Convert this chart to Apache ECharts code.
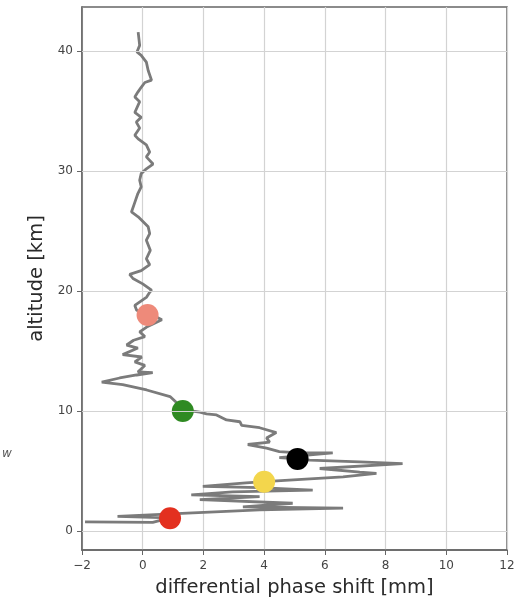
<!DOCTYPE html>
<html>
<head>
<meta charset="utf-8">
<script src="https://cdn.jsdelivr.net/npm/echarts@6/dist/echarts.min.js"></script>
<style>
html,body{margin:0;padding:0;background:#fff;}
#chart{width:524px;height:598px;}
</style>
</head>
<body>
<div id="chart"></div>
<script>
// Differential phase shift profile (mm) vs altitude (km), top to bottom
const phaseShift = [
 -0.15,-0.10,-0.19,-0.05,0.12,0.18,0.29,0.07,-0.05,-0.16,
 -0.26,-0.10,-0.26,-0.05,-0.21,-0.10,-0.26,-0.15,0.12,0.23,
 0.12,0.34,0.12,-0.05,-0.10,-0.05,-0.16,-0.26,-0.37,-0.15,
 0.18,0.23,0.12,0.25,0.12,0.23,-0.05,-0.43,-0.32,0.00,
 0.29,0.23,0.13,-0.26,-0.20,0.10,0.40,0.63,0.13,-0.10,
 0.07,-0.30,-0.53,-0.16,-0.66,-0.03,-0.26,0.07,-0.16,0.33,
 -0.20,-0.76,-1.35,-0.66,0.13,0.90,1.20,1.32,1.88,2.10,
 2.43,2.76,3.20,3.26,3.85,4.40,4.08,4.18,3.46,4.08,
 4.50,5.17,6.26,4.50,5.10,5.50,7.15,8.56,5.83,7.15,
 7.70,6.60,4.28,3.40,1.98,3.85,5.60,2.96,1.60,3.85,
 1.88,4.94,3.30,6.60,3.85,1.65,-0.83,0.90,0.33,-1.90
];
const altitude = [
 41.6,40.5,39.95,39.67,39.1,38.4,37.6,37.4,37.0,36.6,
 36.2,35.8,34.9,34.5,34.1,33.6,33.0,32.7,32.2,31.6,
 31.2,30.6,30.2,29.8,29.25,28.7,28.14,27.4,26.6,26.2,
 25.36,24.8,24.25,23.4,22.7,22.2,21.7,21.4,21.05,20.6,
 20.08,19.9,19.5,18.8,18.4,18.1,17.9,17.6,17.0,16.6,
 16.2,15.9,15.5,15.25,14.7,14.5,14.1,13.8,13.25,13.2,
 13.0,12.75,12.4,12.2,11.75,11.2,10.5,10.1,9.9,9.75,
 9.67,9.25,9.1,8.8,8.6,8.2,7.75,7.4,7.2,6.9,
 6.6,6.5,6.5,6.1,6.0,5.9,5.75,5.6,5.2,4.9,
 4.8,4.5,4.15,4.0,3.7,3.6,3.4,3.25,3.0,2.85,
 2.6,2.3,2.0,1.9,1.75,1.5,1.2,1.08,0.7,0.75
];
// Highlighted markers
const markerShift = [0.16, 1.32, 5.10, 4.00, 0.90];
const markerAltitude = [18.0, 10.0, 6.0, 4.1, 1.05];
const xTicks = [-2, 0, 2, 4, 6, 8, 10, 12];
const yTicks = [0, 10, 20, 30, 40];

const markerColors = ['#ee8a7a', '#2f8a22', '#000000', '#f3d64c', '#e3301f'];
const profile = phaseShift.map((v, i) => [v, altitude[i]]);
const markers = markerShift.map((v, i) => ({
  value: [v, markerAltitude[i]],
  itemStyle: { color: markerColors[i], opacity: 1 }
}));

const fmt = v => String(v).replace('-', '\u2212');
const chart = echarts.init(document.getElementById('chart'), null, { renderer: 'canvas' });
chart.setOption({
  animation: false,
  backgroundColor: '#ffffff',
  grid: {
    left: 82, right: 17, top: 7, bottom: 48, show: true,
    borderColor: '#666', borderWidth: 1.5,
    containLabel: false, outerBoundsMode: 'none'
  },
  xAxis: {
    type: 'value', min: xTicks[0], max: xTicks[xTicks.length - 1], interval: 2,
    name: 'differential phase shift [mm]', nameLocation: 'middle', nameGap: 28,
    nameTextStyle: { fontFamily: 'DejaVu Sans', fontSize: 19.5, color: '#2a2a2a' },
    axisLine: { show: true, onZero: false, lineStyle: { color: '#666', width: 1.5 } },
    axisTick: { show: true, length: 5, lineStyle: { color: '#666' } },
    axisLabel: { fontFamily: 'DejaVu Sans', fontSize: 12, color: '#444', margin: 10, formatter: fmt },
    splitLine: { show: true, lineStyle: { color: '#d3d3d3', width: 1.2 } }
  },
  yAxis: {
    type: 'value', min: -1.6, max: 43.7,
    name: 'altitude [km]', nameLocation: 'middle', nameGap: 33, nameRotate: 90,
    nameTextStyle: { fontFamily: 'DejaVu Sans', fontSize: 19.5, color: '#2a2a2a' },
    axisLine: { show: true, onZero: false, lineStyle: { color: '#666', width: 1.5 } },
    axisTick: { show: true, length: 5, customValues: yTicks, lineStyle: { color: '#666' } },
    axisLabel: {
      fontFamily: 'DejaVu Sans', fontSize: 12, color: '#444', margin: 9,
      customValues: yTicks, formatter: fmt
    },
    splitLine: { show: false }
  },
  graphic: [{
    type: 'text', left: 2, top: 448,
    style: { text: 'w', fontFamily: 'DejaVu Sans', fontSize: 12, fontStyle: 'italic', fill: '#555' }
  }],
  series: [
    {
      type: 'line', data: [], silent: true, z: 1,
      markLine: {
        silent: true, symbol: 'none', animation: false,
        label: { show: false },
        lineStyle: { color: '#d3d3d3', width: 1.2, type: 'solid' },
        emphasis: { disabled: true },
        data: yTicks.map(v => ({ yAxis: v }))
      }
    },
    {
      type: 'line', data: profile, showSymbol: false, symbol: 'none',
      lineStyle: { color: '#7b7b7b', width: 2.8 }, z: 2
    },
    {
      type: 'scatter', data: markers, symbolSize: 22, z: 3
    }
  ]
});
</script>
</body>
</html>
